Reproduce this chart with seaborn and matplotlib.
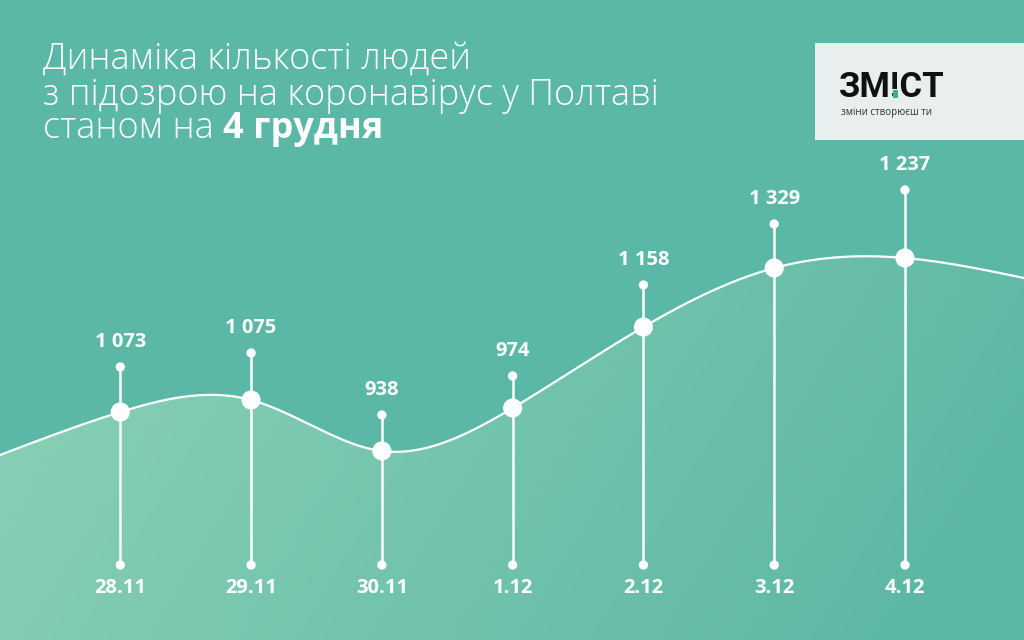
import numpy as np
import pandas as pd
import matplotlib
matplotlib.use("Agg")
import matplotlib.pyplot as plt
import matplotlib.patches as mpatches
from matplotlib.colors import to_rgb
import seaborn as sns

# data
dates = ["28.11", "29.11", "30.11", "1.12", "2.12", "3.12", "4.12"]
values = [1073, 1075, 938, 974, 1158, 1329, 1237]
value_labels = ["1 073", "1 075", "938", "974", "1 158", "1 329", "1 237"]
# the designer's heights of the curve and stem tops (picture units, 0 = bottom edge)
curve_level = [228, 240, 189, 232, 313, 372, 382]
stem_top = [273, 287, 225, 264, 355, 416, 450]
edge_level = [185, 362]   # where the curve leaves the picture, left and right
stem_bottom = 75

BG = "#5bb7a6"
LIGHT = "#8fd4b7"
DARK = "#5bb6a5"

sns.set_theme(style="white")
plt.rcParams["font.family"] = ["Open Sans", "DejaVu Sans"]

df = pd.DataFrame({"date": dates, "value": values, "level": curve_level,
                   "top": stem_top, "label": value_labels})
df["x"] = np.arange(len(df))

x_left, x_right = -0.92, 6.91


def natural_spline(xk, yk, xs):
    xk = np.asarray(xk, float)
    yk = np.asarray(yk, float)
    n = len(xk)
    h = np.diff(xk)
    A = np.zeros((n, n))
    b = np.zeros(n)
    A[0, 0] = A[-1, -1] = 1
    for i in range(1, n - 1):
        A[i, i - 1] = h[i - 1]
        A[i, i] = 2 * (h[i - 1] + h[i])
        A[i, i + 1] = h[i]
        b[i] = 3 * ((yk[i + 1] - yk[i]) / h[i] - (yk[i] - yk[i - 1]) / h[i - 1])
    c = np.linalg.solve(A, b)
    out = np.empty_like(xs)
    idx = np.clip(np.searchsorted(xk, xs) - 1, 0, n - 2)
    for j, (x, i) in enumerate(zip(xs, idx)):
        bi = (yk[i + 1] - yk[i]) / h[i] - h[i] * (2 * c[i] + c[i + 1]) / 3
        di = (c[i + 1] - c[i]) / (3 * h[i])
        dx = x - xk[i]
        out[j] = yk[i] + bi * dx + c[i] * dx ** 2 + di * dx ** 3
    return out


knots_x = [x_left] + list(df["x"]) + [x_right]
knots_y = [edge_level[0]] + list(df["level"]) + [edge_level[1]]
xs = np.linspace(x_left, x_right, 600)
ys = natural_spline(knots_x, knots_y, xs)
curve = pd.DataFrame({"x": xs, "y": ys})

fig = plt.figure(figsize=(10.24, 6.4), dpi=100)
fig.patch.set_facecolor(BG)
ax = fig.add_axes([0, 0, 1, 1])
ax.set_facecolor(BG)
ax.set_xlim(x_left, x_right)
ax.set_ylim(0, 640)
ax.axis("off")

# gradient area under the curve
gx, gy = np.meshgrid(np.linspace(0, 1, 300), np.linspace(0, 1, 200))
t = np.clip(0.8 * gx + 0.3 * gy - 0.05, 0, 1)[..., None]
img = (1 - t) * np.array(to_rgb(LIGHT)) + t * np.array(to_rgb(DARK))
im = ax.imshow(img, extent=[x_left, x_right, 0, 640], origin="upper",
               aspect="auto", zorder=1)
verts = np.vstack([np.column_stack([xs, ys]), [[x_right, 0], [x_left, 0]]])
poly = mpatches.Polygon(verts, closed=True, facecolor="none", edgecolor="none")
ax.add_patch(poly)
im.set_clip_path(poly)

sns.lineplot(data=curve, x="x", y="y", ax=ax, color="white", lw=1.6,
             sort=False, zorder=3)

# stems
for _, r in df.iterrows():
    ax.plot([r.x, r.x], [stem_bottom, r.top], color="white", lw=1.8, zorder=4)
ends = pd.DataFrame({"x": list(df["x"]) * 2,
                     "y": list(df["top"]) + [stem_bottom] * len(df)})
sns.scatterplot(data=ends, x="x", y="y", ax=ax, color="white", s=45,
                edgecolor="none", zorder=5)
sns.scatterplot(data=df, x="x", y="level", ax=ax, color="white", s=190,
                edgecolor="none", zorder=6)

for _, r in df.iterrows():
    ax.text(r.x, r.top + 15, r.label, color="white", fontsize=14.5,
            fontweight="bold", ha="center", va="bottom", zorder=7)
    ax.text(r.x, stem_bottom - 23, r.date, color="white", fontsize=14.5,
            fontweight="bold", ha="center", va="center", zorder=7)

# title
tkw = dict(color="white", fontsize=26, fontweight="light",
           family=["Open Sans", "DejaVu Sans"], va="center", ha="left")
fig.text(43 / 1024, 1 - 59 / 640, "Динаміка кількості людей", **tkw)
fig.text(43 / 1024, 1 - 95 / 640, "з підозрою на коронавірус у Полтаві", **tkw)
t3 = fig.text(43 / 1024, 1 - 129 / 640, "станом на ", **tkw)
fig.canvas.draw()
r = fig.canvas.get_renderer()
bb = t3.get_window_extent(r)
tkw.update(fontweight="bold")
fig.text(bb.x1 / 1024, 1 - 129 / 640, "4 грудня", **tkw)

# logo box
fig.patches.append(mpatches.Rectangle((815 / 1024, 1 - 140 / 640), 209 / 1024,
                                      97 / 640, transform=fig.transFigure,
                                      facecolor="#e8efee", edgecolor="none",
                                      zorder=2))
lkw = dict(color="#111111", fontsize=25, fontweight="bold",
           family=["Roboto", "DejaVu Sans"], va="baseline", ha="left",
           zorder=3)
base = 1 - 97 / 640
logo = fig.text(839 / 1024, base, "ЗМ!СТ", **lkw)
part = fig.text(839 / 1024, base, "ЗМ", **dict(lkw, alpha=0))
excl = fig.text(0, 0, "!", **dict(lkw, alpha=0))
fig.canvas.draw()
b_zm = part.get_window_extent(r)
b_ex = excl.get_window_extent(r)
fig.patches.append(mpatches.Rectangle(((b_zm.x1 + b_ex.width * 0.2) / 1024, base - 0.5 / 640),
                                      b_ex.width * 0.6 / 1024, 7 / 640,
                                      transform=fig.transFigure,
                                      facecolor="#3fae8c", edgecolor="none",
                                      zorder=4))
fig.text(841 / 1024, 1 - 113 / 640, "зміни створюєш ти", color="#333333",
         fontsize=7, family=["Open Sans", "DejaVu Sans"], va="center",
         ha="left")

fig.savefig("out.png", dpi=100, facecolor=BG)
